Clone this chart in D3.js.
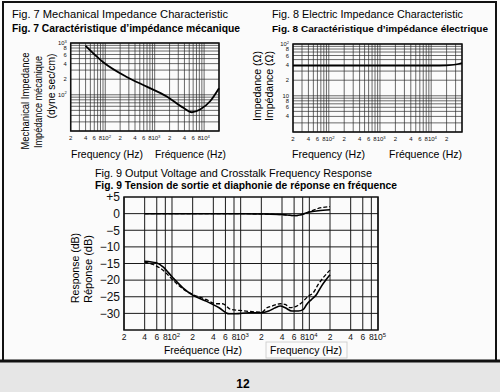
<!DOCTYPE html>
<html lang="en">
<head>
<meta charset="utf-8">
<title>Fig. 7 - Fig. 9</title>
<script src="https://cdnjs.cloudflare.com/ajax/libs/d3/7.8.5/d3.min.js"></script>
<style>
  body { margin: 0; background: #fbfbfb; }
  svg { display: block; font-family: "Liberation Sans", Arial, sans-serif; }
  .grid line { stroke: #2b2b2b; stroke-width: 0.7; }
  .grid9 line { stroke: #1a1a1a; stroke-width: 1; }
  .frame { fill: none; stroke: #111; stroke-width: 1.5; }
  .tick { fill: #111; }
</style>
</head>
<body>
<div id="chart"></div>
<script>
// Fig. 7 mechanical impedance (dyne sec/cm) vs frequency
var f7Freq = [40, 91, 272, 690, 1755, 3805, 5625, 8285, 13220, 20000];
var f7Imp = [877, 425, 221, 144, 93, 56, 46, 52, 75, 134];

// Fig. 8 electric impedance (ohm)
var f8Freq = [20, 100, 1000, 10000, 20000, 30000, 40000];
var f8Imp = [38, 38, 38, 38.2, 38.6, 40, 43];

// Fig. 9 output voltage (dB)
var outSolidFreq = [40, 100, 1000, 2000, 4000, 6200, 7300, 9700, 13500, 20000];
var outSolid = [0, 0, 0, -0.1, -0.3, -0.6, -0.4, 0.4, 0.9, 1.2];
var outDashFreq = [40, 100, 1000, 2000, 4000, 6200, 8000, 11000, 13500, 20000];
var outDash = [0, 0, 0, -0.1, -0.3, -0.6, -0.2, 0.9, 1.6, 2.1];

// Fig. 9 crosstalk (dB)
var ctSolidFreq = [40, 59, 74, 103, 144, 200, 312, 485, 677, 846, 1316, 2047, 2558, 3194, 3774, 4457, 5549, 6930, 8186, 9140, 10790, 12740, 15040, 20000];
var ctSolid = [-14.3, -14.8, -16.0, -19.3, -22.3, -24.5, -26.3, -28.3, -30.1, -30.1, -29.8, -29.8, -29.3, -28.3, -27.8, -28.3, -29.3, -29.3, -28.8, -27.3, -25.8, -24.3, -21.8, -18.4];
var ctDashFreq = [40, 53, 74, 103, 144, 200, 312, 435, 542, 716, 944, 2047, 2416, 2853, 3774, 4457, 5260, 6550, 7730, 9660, 11400, 13460, 15890, 20000];
var ctDash = [-14.6, -15.3, -17.0, -20.0, -22.6, -24.3, -25.8, -27.1, -27.1, -28.8, -29.1, -29.6, -28.3, -27.8, -27.1, -27.3, -28.3, -27.8, -26.8, -24.8, -23.8, -21.3, -19.3, -17.0];

var dbTicks = [5, 0, -5, -10, -15, -20, -25, -30];

var w = 500, h = 392;
var svg = d3.select("#chart").append("svg").attr("width", w).attr("height", h);

// page + scan strip
svg.append("rect").attr("x", 0).attr("y", 362).attr("width", w).attr("height", 30).attr("fill", "#e6e6e6");
svg.append("rect").attr("x", 3).attr("y", 2).attr("width", 493).attr("height", 359)
  .attr("fill", "none").attr("stroke", "#111").attr("stroke-width", 2);
svg.append("line").attr("x1", 0).attr("x2", w).attr("y1", 361).attr("y2", 361)
  .attr("stroke", "#111").attr("stroke-width", 3);
svg.append("text").attr("x", 243).attr("y", 388).attr("text-anchor", "middle")
  .attr("font-size", 12).attr("font-weight", "bold").text("12");

function logSteps(lo, hi, mults) {
  var out = [];
  for (var k = Math.floor(Math.log10(lo)); k <= Math.ceil(Math.log10(hi)); k++) {
    mults.forEach(function(m) {
      var v = m * Math.pow(10, k);
      if (v >= lo * 0.999 && v <= hi * 1.001) out.push(v);
    });
  }
  return out;
}

function decade(v) {
  var k = Math.floor(Math.log10(v) + 1e-9);
  return { k: k, m: Math.round(v / Math.pow(10, k)) };
}

// x tick labels: plain mantissa centred, decades as 10^k with the "10" centred
function xLabels(g, data, x, y, size) {
  g.selectAll(null).data(data).enter().append("text").attr("class", "tick")
    .attr("y", y).attr("font-size", size)
    .each(function(d) {
      var t = d3.select(this), p = decade(d);
      if (p.m == 1) {
        t.attr("x", x(d) - size * 0.55).attr("text-anchor", "start").text("10");
        t.append("tspan").attr("dy", -size * 0.4).attr("font-size", "0.7em").text(p.k);
      } else {
        t.attr("x", x(d)).attr("text-anchor", "middle").text(p.m);
      }
    });
}

function title(x, y, txt, len, bold, size) {
  svg.append("text").attr("x", x).attr("y", y).attr("font-size", size || 11)
    .attr("font-weight", bold ? "bold" : "normal")
    .attr("textLength", len).attr("lengthAdjust", "spacingAndGlyphs").text(txt);
}

function vtitle(x, y, txt, len, size) {
  svg.append("text").attr("transform", "translate(" + x + "," + y + ") rotate(-90)")
    .attr("text-anchor", "middle").attr("dy", "0.35em").attr("font-size", size)
    .attr("textLength", len).attr("lengthAdjust", "spacingAndGlyphs").text(txt);
}

// small log-log charts (fig 7, fig 8)
function logChart(opt) {
  var x = d3.scaleLog().domain(opt.xd).range(opt.xr);
  var y = d3.scaleLog().domain(opt.yd).range(opt.yr);
  var g = svg.append("g");
  var grid = g.append("g").attr("class", "grid");
  grid.selectAll(".v").data(logSteps(opt.xd[0], opt.xd[1], [1,2,3,4,5,6,7,8,9])).enter().append("line")
    .attr("x1", x).attr("x2", x).attr("y1", opt.yr[0]).attr("y2", opt.yr[1]);
  grid.selectAll(".h").data(logSteps(opt.yd[0], opt.yd[1], [1,2,3,4,5,6,7,8,9])).enter().append("line")
    .attr("x1", opt.xr[0]).attr("x2", opt.xr[1]).attr("y1", y).attr("y2", y);
  g.append("rect").attr("class", "frame").attr("x", opt.xr[0]).attr("y", opt.yr[1])
    .attr("width", opt.xr[1] - opt.xr[0]).attr("height", opt.yr[0] - opt.yr[1]);

  xLabels(g, opt.xTicks, x, opt.yr[0] + 9, 6);
  g.selectAll(".yl").data(opt.yTicks).enter().append("text").attr("class", "tick")
    .attr("x", opt.xr[0] - 4).attr("y", y).attr("dy", "0.35em").attr("text-anchor", "end")
    .attr("font-size", 5.8)
    .each(function(d) {
      var t = d3.select(this), p = decade(d);
      if (p.m == 1) {
        t.text("10");
        if (opt.ySup(d)) t.append("tspan").attr("dy", -2.5).attr("font-size", "0.7em").text(p.k);
      } else t.text(p.m);
    });

  var line = d3.line().x(function(d) { return x(d[0]); }).y(function(d) { return y(d[1]); })
    .curve(d3.curveMonotoneX);
  g.append("path").datum(d3.zip(opt.fx, opt.fy)).attr("d", line)
    .attr("fill", "none").attr("stroke", "#000").attr("stroke-width", opt.sw);
}

logChart({
  xd: [20, 20000], xr: [70.7, 219], yd: [20, 1000], yr: [131, 43],
  xTicks: logSteps(20, 10000, [2, 4, 6, 8, 1]),
  yTicks: [1000, 800, 600, 400, 200, 100],
  ySup: function(d) { return true; },
  fx: f7Freq, fy: f7Imp, sw: 1.8
});

logChart({
  xd: [20, 40000], xr: [293, 462], yd: [2, 100], yr: [132, 44],
  xTicks: logSteps(20, 20000, [2, 4, 6, 8, 1]),
  yTicks: [100, 80, 60, 40, 20, 10, 8, 6, 4],
  ySup: function(d) { return d == 100; },
  fx: f8Freq, fy: f8Imp, sw: 1.5
});

// titles fig 7 / 8
title(12, 18, "Fig. 7  Mechanical Impedance Characteristic", 216, false, 10.5);
title(12, 32, "Fig. 7  Caractéristique d’impédance mécanique", 228, true, 10);
title(272, 18, "Fig. 8  Electric Impedance Characteristic", 191, false, 10.5);
title(272, 32, "Fig. 8  Caractéristique d’impédance électrique", 216, true, 9.5);

title(71, 158, "Frequency (Hz)", 72, false, 11);
title(155, 158, "Fréquence (Hz)", 71, false, 11.5);
title(292, 158, "Frequency (Hz)", 73, false, 11);
title(389, 158, "Fréquence (Hz)", 73, false, 11.5);

vtitle(25, 101, "Mechanical Impedance", 97, 10.5);
vtitle(38, 102, "Impédance mécanique", 92, 10.5);
vtitle(51, 86, "(dyne sec/cm)", 65, 10.5);
vtitle(257, 86, "Impedance (Ω)", 70, 10.5);
vtitle(269, 86, "Impédance (Ω)", 70, 10.5);

// Fig. 9
var x9 = d3.scaleLog().domain([20, 100000]).range([124, 378]);
var y9 = d3.scaleLinear().domain([-35, 5]).range([330, 197]);
var g9 = svg.append("g");
var grid9 = g9.append("g").attr("class", "grid9");
grid9.selectAll(".v").data(logSteps(20, 100000, [1, 2, 4, 6, 8])).enter().append("line")
  .attr("x1", x9).attr("x2", x9).attr("y1", 330).attr("y2", 197);
grid9.selectAll(".h").data(d3.range(-30, 5, 5)).enter().append("line")
  .attr("x1", 124).attr("x2", 378).attr("y1", y9).attr("y2", y9).attr("stroke-width", 1.2);
g9.append("rect").attr("class", "frame").attr("x", 124).attr("y", 197)
  .attr("width", 254).attr("height", 133);

xLabels(g9, logSteps(20, 100000, [2, 4, 6, 8, 1]), x9, 340, 8.5);
g9.selectAll(".yl").data(dbTicks).enter().append("text").attr("class", "tick")
  .attr("x", 120).attr("y", y9).attr("dy", "0.36em").attr("text-anchor", "end")
  .attr("font-size", 12)
  .text(function(d) { return d > 0 ? "+" + d : d < 0 ? "\u2212" + (-d) : "0"; });

var line9 = d3.line().x(function(d) { return x9(d[0]); }).y(function(d) { return y9(d[1]); })
  .curve(d3.curveMonotoneX);
[[outSolidFreq, outSolid, null, 1.5], [outDashFreq, outDash, "4,2", 1.3],
 [ctSolidFreq, ctSolid, null, 1.6], [ctDashFreq, ctDash, "4,2", 1.3]].forEach(function(s) {
  g9.append("path").datum(d3.zip(s[0], s[1])).attr("d", line9)
    .attr("fill", "none").attr("stroke", "#000").attr("stroke-width", s[3])
    .attr("stroke-dasharray", s[2]);
});

title(95, 177, "Fig. 9  Output Voltage and Crosstalk Frequency Response", 277, false, 10.5);
title(95, 189, "Fig. 9  Tension de sortie et diaphonie de réponse en fréquence", 302, true, 10);

title(164, 354, "Freéquence (Hz)", 78, false, 11.5);
svg.append("rect").attr("x", 266).attr("y", 342).attr("width", 81).attr("height", 16)
  .attr("fill", "none").attr("stroke", "#c8c8c8").attr("stroke-width", 0.8);
title(270, 354, "Frequency (Hz)", 72, false, 11.5);

vtitle(75, 268, "Response (dB)", 70, 11);
vtitle(88, 269, "Réponse (dB)", 68, 11);
</script>
</body>
</html>
